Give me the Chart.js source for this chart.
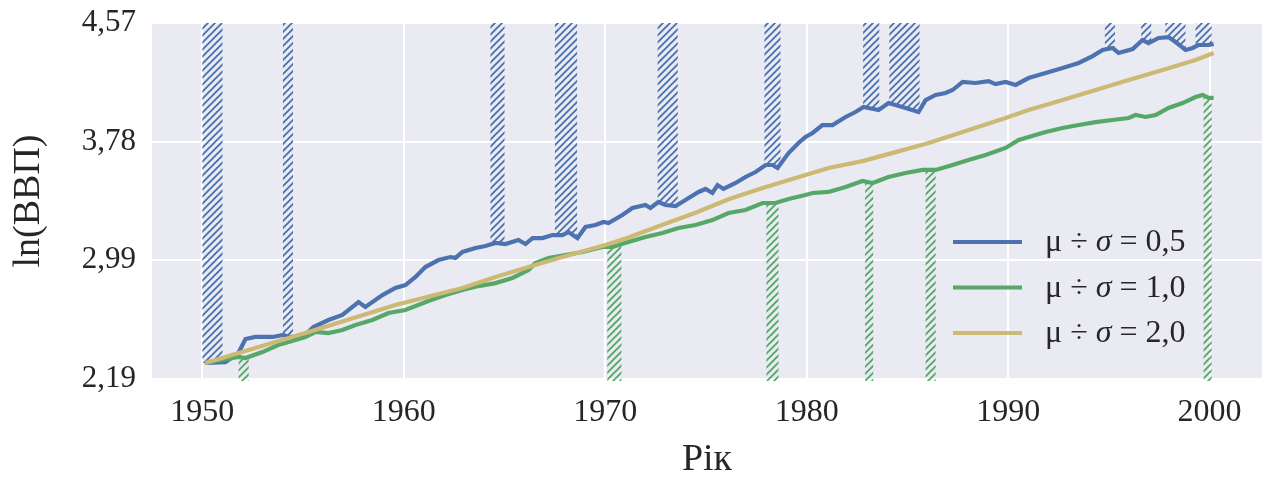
<!DOCTYPE html>
<html>
<head>
<meta charset="utf-8">
<script src="https://cdn.jsdelivr.net/npm/chart.js@4.4.1/dist/chart.umd.min.js"></script>
<style>
  html, body { margin: 0; padding: 0; background: #fff; }
  #wrap { width: 1267px; height: 479px; }
</style>
</head>
<body>
<div id="wrap"><canvas id="chart" width="1267" height="479"></canvas></div>
<script>
// Ряди ln(ВВП) за роками для трьох значень μ ÷ σ
const blueYears = [
  1950.15, 1951.14, 1951.79, 1952.14, 1952.63, 1953.48, 1954.02, 1954.27, 1954.62, 1955.11,
  1955.51, 1956.26, 1956.95, 1957.75, 1958.09, 1958.94, 1959.58, 1960.08, 1960.58, 1961.07,
  1961.72, 1962.31, 1962.56, 1962.91, 1963.56, 1964.05, 1964.55, 1965.04, 1965.69, 1966.04,
  1966.39, 1966.88, 1967.38, 1967.87, 1968.17, 1968.62, 1969.02, 1969.51, 1969.91, 1970.16,
  1970.85, 1971.35, 1971.99, 1972.24, 1972.64, 1972.99, 1973.49, 1973.98, 1974.63, 1974.98,
  1975.32, 1975.57, 1975.87, 1976.47, 1976.96, 1977.46, 1977.96, 1978.30, 1978.55, 1979.10,
  1979.59, 1979.94, 1980.29, 1980.78, 1981.28, 1981.93, 1982.42, 1982.82, 1983.07, 1983.57,
  1984.06, 1984.41, 1984.91, 1985.55, 1985.90, 1986.40, 1986.89, 1987.24, 1987.74, 1988.38,
  1989.03, 1989.37, 1989.87, 1990.37, 1991.01, 1991.86, 1992.70, 1993.50, 1994.19, 1994.69,
  1995.18, 1995.48, 1996.18, 1996.67, 1996.97, 1997.47, 1997.96, 1998.31, 1998.81, 1999.16,
  1999.45, 1999.95, 2000.20
];
const blueValues = [
  2.301, 2.307, 2.368, 2.461, 2.475, 2.475, 2.488, 2.475, 2.475, 2.488,
  2.541, 2.588, 2.622, 2.708, 2.675, 2.755, 2.802, 2.822, 2.876, 2.942,
  2.989, 3.009, 3.003, 3.043, 3.069, 3.083, 3.103, 3.096, 3.123, 3.096,
  3.136, 3.136, 3.156, 3.156, 3.176, 3.136, 3.210, 3.223, 3.243, 3.236,
  3.290, 3.337, 3.357, 3.337, 3.377, 3.357, 3.350, 3.390, 3.444, 3.464,
  3.437, 3.490, 3.464, 3.504, 3.544, 3.577, 3.624, 3.624, 3.604, 3.704,
  3.771, 3.811, 3.838, 3.891, 3.891, 3.945, 3.978, 4.012, 4.005, 3.992,
  4.038, 4.025, 4.005, 3.978, 4.058, 4.092, 4.105, 4.125, 4.179, 4.172,
  4.185, 4.165, 4.179, 4.159, 4.205, 4.239, 4.272, 4.306, 4.352, 4.393,
  4.406, 4.373, 4.399, 4.459, 4.439, 4.473, 4.479, 4.446, 4.393, 4.406,
  4.426, 4.426, 4.433
];

const greenYears = [
  1950.15, 1951.79, 1952.14, 1952.98, 1953.77, 1954.62, 1955.11, 1955.61, 1956.26, 1956.95,
  1957.60, 1958.44, 1959.24, 1960.08, 1961.22, 1962.07, 1962.91, 1963.70, 1964.55, 1965.39,
  1966.19, 1966.53, 1967.18, 1968.02, 1968.87, 1969.86, 1970.36, 1971.15, 1971.99, 1972.84,
  1973.63, 1974.48, 1975.32, 1976.12, 1976.96, 1977.81, 1978.45, 1979.10, 1979.94, 1980.29,
  1981.08, 1981.93, 1982.77, 1983.27, 1984.06, 1984.91, 1985.75, 1986.40, 1987.24, 1988.03,
  1988.88, 1989.87, 1990.52, 1991.86, 1992.70, 1993.50, 1994.34, 1995.18, 1995.98, 1996.33,
  1996.82, 1997.32, 1997.96, 1998.66, 1999.30, 1999.65, 1999.95, 2000.20
];
const greenValues = [
  2.301, 2.341, 2.334, 2.374, 2.421, 2.455, 2.475, 2.508, 2.501, 2.521,
  2.555, 2.588, 2.635, 2.655, 2.715, 2.755, 2.789, 2.815, 2.835, 2.869,
  2.922, 2.969, 3.003, 3.023, 3.043, 3.076, 3.076, 3.109, 3.143, 3.170,
  3.203, 3.223, 3.256, 3.303, 3.323, 3.370, 3.370, 3.397, 3.424, 3.437,
  3.444, 3.477, 3.517, 3.504, 3.544, 3.571, 3.591, 3.591, 3.624, 3.657,
  3.691, 3.738, 3.791, 3.845, 3.871, 3.891, 3.911, 3.925, 3.938, 3.958,
  3.945, 3.958, 4.005, 4.038, 4.078, 4.092, 4.072, 4.072
];

const yellowYears = [
  1950.15, 1955.11, 1959.58, 1962.91, 1964.55, 1966.19, 1967.87, 1970.01, 1971.15, 1972.84,
  1974.48, 1976.12, 1977.81, 1979.94, 1981.08, 1982.77, 1984.41, 1986.05, 1987.74, 1989.87,
  1991.01, 1992.70, 1994.34, 1995.98, 1997.67, 1999.30, 2000.20
];
const yellowValues = [
  2.301, 2.501, 2.688, 2.802, 2.876, 2.942, 3.009, 3.089, 3.140, 3.225,
  3.305, 3.395, 3.470, 3.557, 3.604, 3.650, 3.710, 3.771, 3.845, 3.938,
  3.992, 4.058, 4.125, 4.192, 4.259, 4.326, 4.373
];

// Періоди, позначені штрихуванням (зверху — для 0,5, знизу — для 1,0)
const blueBands = [
  [1950.0, 1951.0], [1954.0, 1954.5], [1964.3, 1965.0], [1967.5, 1968.6],
  [1972.6, 1973.6], [1977.9, 1978.7], [1982.8, 1983.6], [1984.1, 1985.6],
  [1994.8, 1995.3], [1996.6, 1997.1], [1997.8, 1998.8], [1999.3, 2000.1]
];
const greenBands = [
  [1951.8, 1952.3], [1970.1, 1970.8], [1978.0, 1978.6],
  [1982.9, 1983.3], [1985.9, 1986.4], [1999.7, 2000.1]
];

const seriesLabels = ['μ ÷ σ = 0,5', 'μ ÷ σ = 1,0', 'μ ÷ σ = 2,0'];
const xTickValues = [1950, 1960, 1970, 1980, 1990, 2000];
const yTickValues = [2.194, 2.987, 3.780, 4.573];
const yTickLabels = ['2,19', '2,99', '3,78', '4,57'];

const BLUE = '#4C72B0', GREEN = '#55A868', SAND = '#CCB974';
const SERIF = '"Liberation Serif", "Times New Roman", serif';
const INK = '#262626';

const toPoints = (xs, ys) => xs.map((x, i) => ({ x, y: ys[i] }));

function hatchPattern(ctx, color) {
  const s = 7;
  const c = document.createElement('canvas');
  c.width = s; c.height = s;
  const g = c.getContext('2d');
  g.strokeStyle = color;
  g.lineWidth = 1.9;
  g.beginPath();
  g.moveTo(-1, s + 1); g.lineTo(s + 1, -1);
  g.moveTo(-1, 1); g.lineTo(1, -1);
  g.moveTo(s - 1, s + 1); g.lineTo(s + 1, s - 1);
  g.stroke();
  return ctx.createPattern(c, 'repeat');
}

// штрихування між краєм області і лінією ряду
function drawBands(chart, dsIndex, bands, color, above) {
  const { ctx, chartArea: a, scales: { x } } = chart;
  const pts = chart.getDatasetMeta(dsIndex).data;
  if (!pts.length) return;
  const edge = above ? a.top : a.bottom + 2;
  ctx.save();
  ctx.beginPath();
  ctx.moveTo(a.left, edge);
  ctx.lineTo(a.left, pts[0].y);
  pts.forEach(p => ctx.lineTo(p.x, p.y));
  ctx.lineTo(a.right, pts[pts.length - 1].y);
  ctx.lineTo(a.right, edge);
  ctx.closePath();
  ctx.clip();
  ctx.fillStyle = hatchPattern(ctx, color);
  bands.forEach(([b0, b1]) => {
    const x0 = x.getPixelForValue(b0);
    const x1 = x.getPixelForValue(b1);
    ctx.fillRect(x0, a.top, x1 - x0, a.bottom + 2 - a.top);
  });
  ctx.restore();
}

const plotBackground = {
  id: 'plotBackground',
  beforeDraw(chart) {
    const { ctx, chartArea: a } = chart;
    ctx.save();
    ctx.fillStyle = '#EAEAF2';
    ctx.fillRect(a.left, a.top, a.right - a.left, a.bottom - a.top);
    ctx.restore();
  }
};

const hatchBands = {
  id: 'hatchBands',
  beforeDatasetsDraw(chart) {
    drawBands(chart, 0, blueBands, BLUE, true);
    drawBands(chart, 1, greenBands, GREEN, false);
  }
};

// легенда всередині області графіка, σ — курсивом
const innerLegend = {
  id: 'innerLegend',
  afterDraw(chart) {
    const { ctx, chartArea: a } = chart;
    const upright = `32px ${SERIF}`;
    const italic = `italic 32px ${SERIF}`;
    ctx.save();
    chart.data.datasets.forEach((ds, i) => {
      const y = a.bottom - 137 + i * 45.5;
      const x0 = a.right - 309;
      ctx.strokeStyle = ds.borderColor;
      ctx.lineWidth = 4;
      ctx.beginPath();
      ctx.moveTo(x0, y);
      ctx.lineTo(x0 + 69, y);
      ctx.stroke();

      ctx.fillStyle = INK;
      ctx.textBaseline = 'middle';
      ctx.textAlign = 'left';
      const [before, after] = ds.label.split('σ');
      let tx = x0 + 92;
      ctx.font = upright;
      ctx.fillText(before, tx, y + 1);
      tx += ctx.measureText(before).width;
      ctx.font = italic;
      ctx.fillText('σ', tx, y + 1);
      tx += ctx.measureText('σ').width;
      ctx.font = upright;
      ctx.fillText(after, tx, y + 1);
    });
    ctx.restore();
  }
};

const lineStyle = { pointRadius: 0, borderWidth: 4.2, tension: 0, fill: false };

new Chart(document.getElementById('chart'), {
  type: 'line',
  data: {
    datasets: [
      { label: seriesLabels[0], data: toPoints(blueYears, blueValues), borderColor: BLUE, order: 2, ...lineStyle },
      { label: seriesLabels[1], data: toPoints(greenYears, greenValues), borderColor: GREEN, order: 1, ...lineStyle },
      { label: seriesLabels[2], data: toPoints(yellowYears, yellowValues), borderColor: SAND, order: 0, ...lineStyle }
    ]
  },
  options: {
    responsive: false,
    animation: false,
    layout: { padding: { top: 23, right: 5, left: 0, bottom: 0 } },
    plugins: {
      legend: { display: false },
      tooltip: { enabled: false }
    },
    scales: {
      x: {
        type: 'linear',
        min: 1947.5,
        max: 2002.6,
        afterBuildTicks(scale) { scale.ticks = xTickValues.map(v => ({ value: v })); },
        afterFit(scale) { scale.height = 100; },
        grid: { color: '#ffffff', lineWidth: 2, drawTicks: false },
        border: { display: false },
        ticks: {
          padding: 14,
          color: INK,
          font: { family: SERIF, size: 32 },
          maxRotation: 0,
          callback: v => String(v)
        },
        title: {
          display: true,
          text: 'Рік',
          color: INK,
          font: { family: SERIF, size: 38, lineHeight: 1.0 },
          padding: { top: 0, bottom: 0 }
        }
      },
      y: {
        min: yTickValues[0],
        max: yTickValues[yTickValues.length - 1],
        afterBuildTicks(scale) { scale.ticks = yTickValues.map(v => ({ value: v })); },
        afterFit(scale) {
          scale.width = 152;
          // верхня мітка не повинна зсувати область графіка
          scale.paddingTop = 0;
          scale.paddingBottom = 0;
        },
        grid: { color: '#ffffff', lineWidth: 2, drawTicks: false },
        border: { display: false },
        ticks: {
          padding: 16,
          color: INK,
          font: { family: SERIF, size: 31 },
          callback: (v, i) => yTickLabels[i]
        },
        title: {
          display: true,
          text: 'ln(ВВП)',
          color: INK,
          font: { family: SERIF, size: 38 },
          padding: { top: 6, bottom: 0 }
        }
      }
    }
  },
  plugins: [plotBackground, hatchBands, innerLegend]
});
</script>
</body>
</html>
